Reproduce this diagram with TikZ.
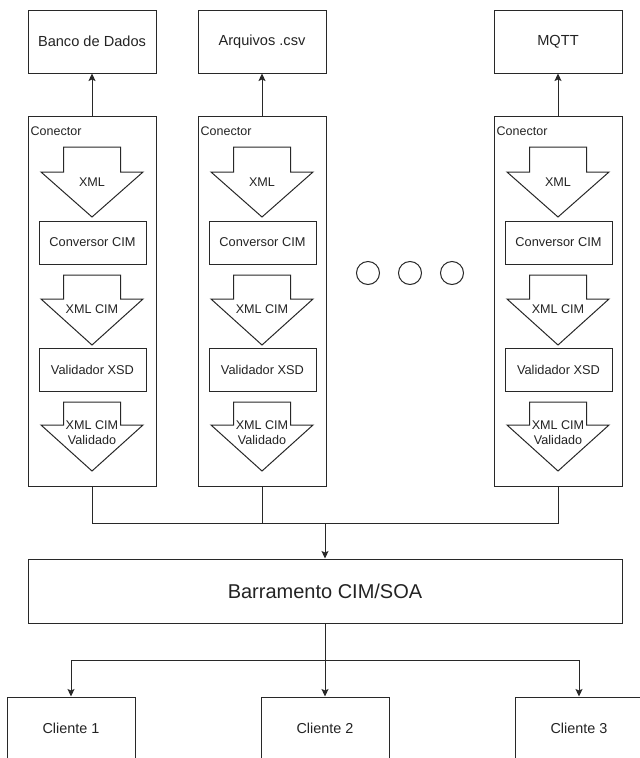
\documentclass[tikz,border=0pt]{standalone}
\usepackage{fontspec}
\setmainfont{Liberation Sans}
\usetikzlibrary{arrows.meta}
\definecolor{linec}{RGB}{40,40,40}
\definecolor{textc}{RGB}{35,35,35}
\begin{document}
\begin{tikzpicture}[x=1pt,y=-1pt,
  every node/.style={text=textc},
  ln/.style={draw=linec,line width=1pt},
  arr/.style={ln,-{Stealth[length=7.5pt,width=7pt,inset=1.5pt]}},
  topbox/.style={ln,minimum width=128pt,minimum height=63pt,inner sep=0pt,font=\fontsize{14.6}{17}\selectfont},
  connbox/.style={ln,minimum width=128pt,minimum height=370pt,inner sep=0pt},
  stepbox/.style={ln,minimum width=107pt,minimum height=43pt,inner sep=0pt,font=\fontsize{12.8}{15}\selectfont},
  blockarrow/.style={ln,fill=white,line join=miter},
  arrlabel/.style={inner sep=0pt,align=center,font=\fontsize{12.6}{15}\selectfont},
  conlabel/.style={inner sep=0pt,anchor=base west,font=\fontsize{12.5}{15}\selectfont},
  clibox/.style={ln,minimum width=128pt,minimum height=63pt,inner sep=0pt,font=\fontsize{14.4}{17}\selectfont},
  dotc/.style={ln,circle,minimum size=23pt,inner sep=0pt}
]
\useasboundingbox (0,0) rectangle (640,758);
\begin{scope}
\clip (0,0) rectangle (640,758);

\foreach \i/\dx/\lab in {1/0/Banco de Dados, 2/170/Arquivos .csv, 3/466/MQTT}{
  \pgfmathsetmacro{\cx}{92+\dx}
  \node[topbox] (top\i) at (\cx,41.5) {\lab};
  \node[connbox] (conn\i) at (\cx,301) {};
  \node[conlabel] (conlab\i) at (\cx-61.5,135) {Conector};
  % block arrow 1
  \draw[blockarrow] (\cx-28.5,147) -- (\cx+28.5,147) -- (\cx+28.5,172) -- (\cx+51,172) -- (\cx,217) -- (\cx-51,172) -- (\cx-28.5,172) -- cycle;
  \node[arrlabel] (xml\i) at (\cx,182) {XML};
  \node[stepbox] (conv\i) at (\cx+0.5,242.5) {Conversor CIM};
  % block arrow 2
  \draw[blockarrow] (\cx-28.5,275) -- (\cx+28.5,275) -- (\cx+28.5,299) -- (\cx+51,299) -- (\cx,345) -- (\cx-51,299) -- (\cx-28.5,299) -- cycle;
  \node[arrlabel] (xmlcim\i) at (\cx,309) {XML CIM};
  \node[stepbox] (val\i) at (\cx+0.5,369.5) {Validador XSD};
  % block arrow 3
  \draw[blockarrow] (\cx-28.5,402) -- (\cx+28.5,402) -- (\cx+28.5,425) -- (\cx+51,425) -- (\cx,471) -- (\cx-51,425) -- (\cx-28.5,425) -- cycle;
  \node[arrlabel] (xmlval\i) at (\cx,433) {XML CIM\\Validado};
  \draw[arr] (conn\i.north) -- (top\i.south);
}

\node[dotc] (d1) at (368,273) {};
\node[dotc] (d2) at (410,273) {};
\node[dotc] (d3) at (452,273) {};

\node[ln,minimum width=594pt,minimum height=64pt,inner sep=0pt,font=\fontsize{20}{23}\selectfont] (bus) at (325,591) {Barramento CIM/SOA};

\coordinate (hub) at (325,523);
\draw[ln] (conn1.south) |- (hub);
\draw[ln] (conn2.south) |- (hub);
\draw[ln] (conn3.south) |- (hub);
\draw[arr] (hub) -- (bus.north);

\node[clibox] (cli1) at (71,728.5) {Cliente 1};
\node[clibox] (cli2) at (325,728.5) {Cliente 2};
\node[clibox] (cli3) at (579,728.5) {Cliente 3};

\coordinate (split) at (325,660);
\draw[ln] (bus.south) -- (split);
\draw[arr] (split) -| (cli1.north);
\draw[arr] (split) -- (cli2.north);
\draw[arr] (split) -| (cli3.north);
\end{scope}
\end{tikzpicture}
\end{document}
